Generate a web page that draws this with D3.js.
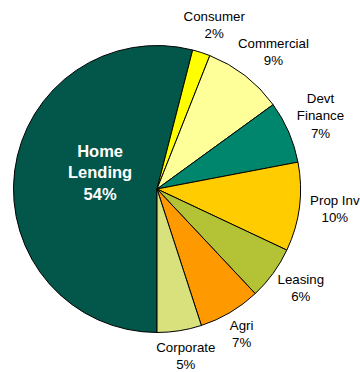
<!DOCTYPE html>
<html>
<head>
<meta charset="utf-8">
<script src="https://cdn.jsdelivr.net/npm/d3@7"></script>
<style>
  html, body { margin: 0; padding: 0; background: #fff; }
  svg { display: block; font-family: "Liberation Sans", Arial, sans-serif; }
</style>
</head>
<body>
<svg id="chart" width="360" height="372"></svg>
<script>
// Loan portfolio mix by segment (percent of total)
const categories = ["Home Lending", "Consumer", "Commercial", "Devt Finance", "Prop Inv", "Leasing", "Agri", "Corporate"];
const shares = [54, 2, 9, 7, 10, 6, 7, 5];
const sliceColors = ["#02574A", "#FFFF00", "#FFFF99", "#00866C", "#FFCC00", "#B4C236", "#FF9900", "#D8E17C"];
// multi-line label text for each segment name
const labelLines = [["Home", "Lending"], ["Consumer"], ["Commercial"], ["Devt", "Finance"], ["Prop Inv"], ["Leasing"], ["Agri"], ["Corporate"]];

const svg = d3.select("#chart");
const cx = 157, cy = 189, radius = 143.5;
const g = svg.append("g").attr("transform", `translate(${cx},${cy})`);

const data = categories.map((c, i) => ({ name: c, value: shares[i], color: sliceColors[i], lines: labelLines[i] }));

// first slice starts at six o'clock and runs clockwise
const pie = d3.pie().sort(null).value(d => d.value)
  .startAngle(Math.PI).endAngle(3 * Math.PI);
const arc = d3.arc().innerRadius(0).outerRadius(radius);
const arcs = pie(data);

g.selectAll("path.slice")
  .data(arcs)
  .join("path")
  .attr("class", "slice")
  .attr("d", arc)
  .attr("fill", d => d.data.color)
  .attr("stroke", "#000")
  .attr("stroke-width", 1)
  .attr("stroke-linejoin", "round");

// inside label for the dominant slice
const inner = arcs[0];
const innerLabel = g.append("text")
  .attr("text-anchor", "middle")
  .attr("fill", "#fff")
  .attr("font-weight", "bold")
  .attr("font-size", "16.5px");
const innerLines = inner.data.lines.concat([inner.data.value + "%"]);
const innerMid = (inner.startAngle + inner.endAngle) / 2;
const innerR = radius * 0.4;
const ix = Math.sin(innerMid) * innerR;
const iy = -Math.cos(innerMid) * innerR;
innerLines.forEach((t, k) => {
  innerLabel.append("tspan")
    .attr("x", ix)
    .attr("y", iy + (k - (innerLines.length - 1) / 2) * 21.5 - 3.5)
    .text(t);
});

// outside labels: the text block sits just beyond the rim along each slice's mid-angle
const lineH = 17.2, fontSize = 13.3, capH = 9.5, gap = 11;
arcs.slice(1).forEach(a => {
  const lines = a.data.lines.concat([a.data.value + "%"]);
  const mid = (a.startAngle + a.endAngle) / 2;
  const sx = Math.sin(mid), sy = -Math.cos(mid);
  const t = g.append("text")
    .attr("text-anchor", "middle")
    .attr("fill", "#000")
    .attr("font-size", fontSize + "px");
  const spans = lines.map(s => t.append("tspan").text(s));
  const w = d3.max(spans, s => s.node().getComputedTextLength());
  const h = (lines.length - 1) * lineH + capH + 6;
  const px = sx * (radius + gap), py = sy * (radius + gap);
  const bx = px + sx * w / 2;
  const by = py + sy * h / 2;
  const firstBase = by - ((lines.length - 1) * lineH) / 2 + capH / 2 - 2;
  spans.forEach((s, k) => s.attr("x", bx).attr("y", firstBase + k * lineH));
});
</script>
</body>
</html>
